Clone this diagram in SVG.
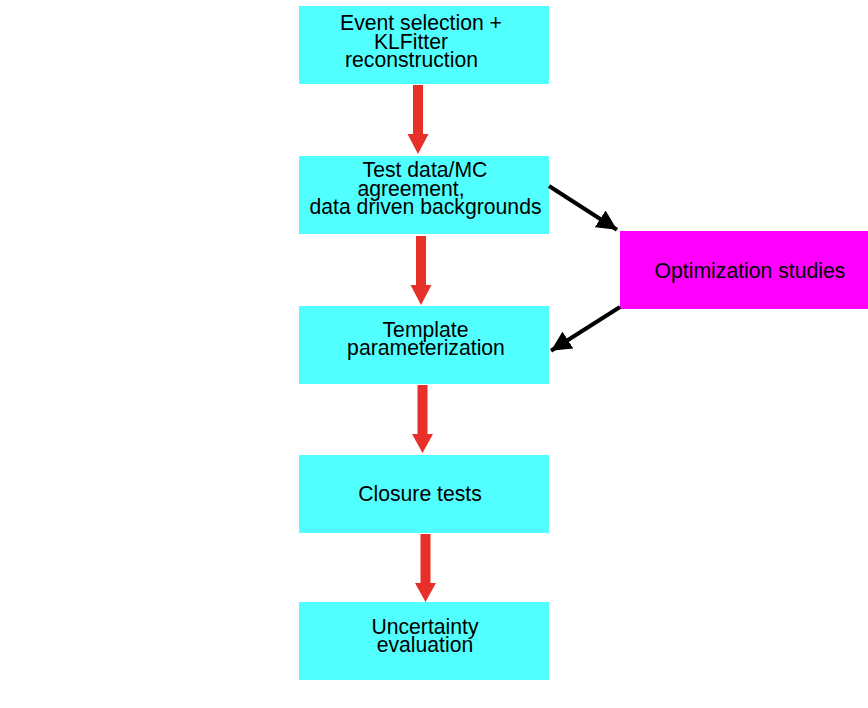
<svg xmlns="http://www.w3.org/2000/svg" width="868" height="708" viewBox="0 0 868 708">
<defs>
<style>
.box{fill:#52FFFF}
.opt{fill:#FF00FF}
text{font-family:"Liberation Sans",Arial,sans-serif;font-size:21.2px;fill:#000;text-anchor:middle}
.red{fill:#E8302A}
.blk{stroke:#000;stroke-width:4;fill:none}
</style>
<marker id="ah" viewBox="0 0 10 10" refX="10" refY="5" markerWidth="5" markerHeight="5" markerUnits="strokeWidth" orient="auto">
<path d="M0,0 L10,5 L0,10 z" fill="#000"/>
</marker>
</defs>
<rect width="868" height="708" fill="#fff"/>
<g id="n1"><rect class="box" x="299" y="6" width="250" height="78"/>
<text x="421" y="29.5">Event selection +</text><text x="411" y="48.5">KLFitter</text><text x="411.5" y="67">reconstruction</text></g>
<g id="n2"><rect class="box" x="299" y="156" width="250" height="78"/>
<text x="425" y="177">Test data/MC</text><text x="411" y="195.5">agreement,</text><text x="425.5" y="214">data driven backgrounds</text></g>
<g id="n3"><rect class="box" x="299" y="306" width="250" height="78"/>
<text x="425.5" y="337">Template</text><text x="426" y="355">parameterization</text></g>
<g id="n4"><rect class="box" x="299" y="455" width="250" height="78"/>
<text x="420" y="500.5">Closure tests</text></g>
<g id="n5"><rect class="box" x="299" y="602" width="250" height="78"/>
<text x="425" y="634">Uncertainty</text><text x="425" y="652">evaluation</text></g>
<g id="n6"><rect class="opt" x="620" y="231" width="248" height="78"/>
<text x="750" y="277.5">Optimization studies</text></g>
<g id="connectors">
<polygon class="red" points="413,85 423,85 423,134 428.5,134 418,154 407.5,134 413,134"/>
<polygon class="red" points="416,236 426,236 426,285 431.5,285 421,305 410.5,285 416,285"/>
<polygon class="red" points="417.5,385 427.5,385 427.5,434 433,434 422.5,453 412,434 417.5,434"/>
<polygon class="red" points="420.5,534 430.5,534 430.5,583 436,583 425.5,602 415,583 420.5,583"/>
<line class="blk" x1="549" y1="186" x2="617" y2="229.7" marker-end="url(#ah)"/>
<line class="blk" x1="620" y1="307" x2="551" y2="350.7" marker-end="url(#ah)"/>
</g>
</svg>
